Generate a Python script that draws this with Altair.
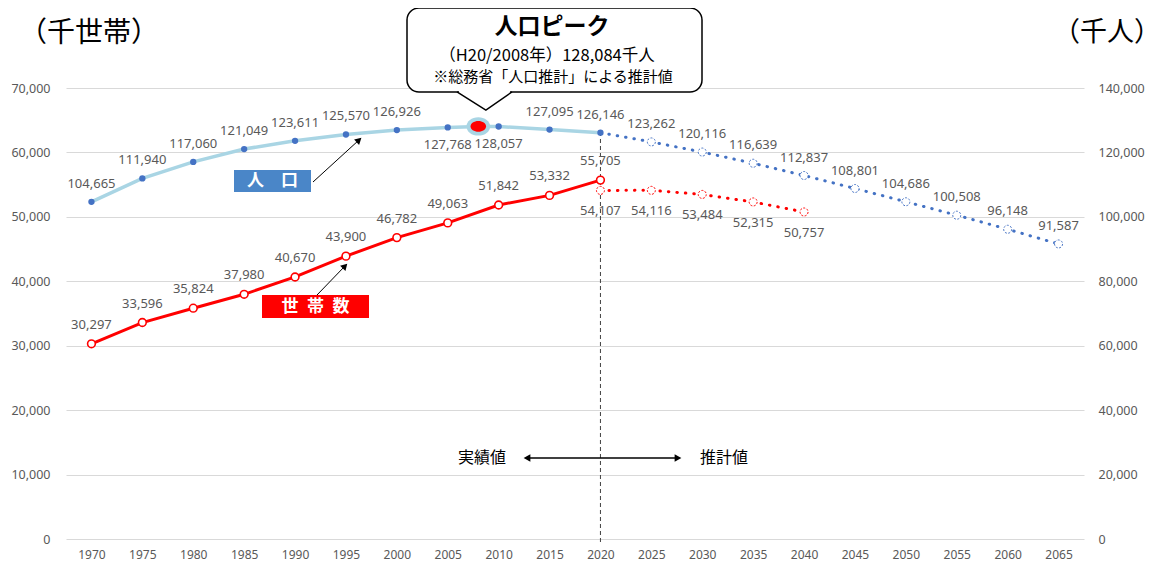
import altair as alt
import pandas as pd

# ---------------- data ----------------
years_actual = [1970, 1975, 1980, 1985, 1990, 1995, 2000, 2005, 2010, 2015, 2020]
pop_actual = [104665, 111940, 117060, 121049, 123611, 125570, 126926, 127768, 128057, 127095, 126146]
peak_year = [2008]
peak_pop = [128084]
years_proj_pop = [2020, 2025, 2030, 2035, 2040, 2045, 2050, 2055, 2060, 2065]
pop_proj = [126146, 123262, 120116, 116639, 112837, 108801, 104686, 100508, 96148, 91587]
hh_actual = [30297, 33596, 35824, 37980, 40670, 43900, 46782, 49063, 51842, 53332, 55705]
years_proj_hh = [2020, 2025, 2030, 2035, 2040]
hh_proj = [54107, 54116, 53484, 52315, 50757]
x_ticks = [1970, 1975, 1980, 1985, 1990, 1995, 2000, 2005, 2010, 2015,
           2020, 2025, 2030, 2035, 2040, 2045, 2050, 2055, 2060, 2065]
hh_ticks = [0, 10000, 20000, 30000, 40000, 50000, 60000, 70000]
pop_ticks = [0, 20000, 40000, 60000, 80000, 100000, 120000, 140000]
pop_below_years = [2005, 2010]

left_title = "（千世帯）"
right_title = "（千人）"
callout_title = "人口ピーク"
callout_line2 = "（H20/2008年）128,084千人"
callout_line3 = "※総務省「人口推計」による推計値"
pop_tag = "人\u3000口"
hh_tag = "世\u2002帯\u2002数"
actual_text = "実績値"
proj_text = "推計値"

JP = "Noto Sans CJK JP"
NUM = "Noto Sans"
GRAY = "#595959"
BLUE = "#4472C4"
LBLUE = "#A9D5E4"
RED = "#FF0000"

# ---------------- tables ----------------
pop_line_df = pd.DataFrame({"year": years_actual + peak_year, "v": pop_actual + peak_pop}).sort_values("year")
pop_act_df = pd.DataFrame({"year": years_actual, "v": pop_actual})
pop_above_df = pop_act_df[~pop_act_df.year.isin(pop_below_years)]
pop_below_df = pop_act_df[pop_act_df.year.isin(pop_below_years)]
pop_proj_df = pd.DataFrame({"year": years_proj_pop, "v": pop_proj})
pop_proj_pts = pop_proj_df[pop_proj_df.year > years_actual[-1]]
peak_df = pd.DataFrame({"year": peak_year, "v": peak_pop})
hh_act_df = pd.DataFrame({"year": years_actual, "v": hh_actual})
hh_proj_df = pd.DataFrame({"year": years_proj_hh, "v": hh_proj})
one = pd.DataFrame({"k": [0]})
vline_df = pd.DataFrame({"year": [years_actual[-1]]})

# ---------------- encodings ----------------
X = alt.X("year:Q",
          scale=alt.Scale(domain=[1967.5, 2067.5], nice=False, zero=False),
          axis=alt.Axis(values=x_ticks, format="d", grid=False, ticks=False, domain=False,
                        labelPadding=10, labelFontSize=12, labelColor=GRAY, labelFont=NUM,
                        title=None))
Y_hh = alt.Y("v:Q", scale=alt.Scale(domain=[0, 70000], nice=False, zero=True),
             axis=alt.Axis(orient="left", values=hh_ticks, format=",.0f", grid=True,
                           gridColor="#D9D9D9", gridWidth=1, ticks=False, domain=False,
                           labelPadding=16, labelFontSize=12.5, labelColor=GRAY,
                           labelFont=NUM, title=None))
Y_pop = alt.Y("v:Q", scale=alt.Scale(domain=[0, 140000], nice=False, zero=True),
              axis=alt.Axis(orient="right", values=pop_ticks, format=",.0f", grid=False,
                            ticks=False, domain=False, labelPadding=14, labelFontSize=12.5,
                            labelColor=GRAY, labelFont=NUM, title=None))
TXT = alt.Text("v:Q", format=",.0f")


def labels(df, Y, dy, dx=0):
    return alt.Chart(df).mark_text(font=NUM, fontSize=13, color=GRAY, dy=dy, dx=dx).encode(
        x=X, y=Y, text=TXT)


# ---------------- households ----------------
hh_group = alt.layer(
    alt.Chart(hh_proj_df).mark_line(color=RED, strokeWidth=3, strokeDash=[0.5, 8],
                                    strokeCap="round").encode(x=X, y=Y_hh),
    alt.Chart(hh_act_df).mark_line(color=RED, strokeWidth=3).encode(x=X, y=Y_hh),
    alt.Chart(hh_act_df).mark_point(shape="circle", size=60, filled=True, fill="white",
                                    stroke=RED, strokeWidth=1.6, opacity=1).encode(x=X, y=Y_hh),
    alt.Chart(hh_proj_df).mark_point(shape="circle", size=64, filled=True, fill="white",
                                     stroke=RED, strokeWidth=1, strokeDash=[2, 1.5],
                                     opacity=1).encode(x=X, y=Y_hh),
    labels(hh_act_df, Y_hh, -19),
    labels(hh_proj_df, Y_hh, 21),
)

# ---------------- population ----------------
ellipse_outer = "M -1 0 A 1 0.78 0 1 1 1 0 A 1 0.78 0 1 1 -1 0 Z"
ellipse_inner = "M -1 0 A 1 0.68 0 1 1 1 0 A 1 0.68 0 1 1 -1 0 Z"
pop_group = alt.layer(
    alt.Chart(pop_proj_df).mark_line(color=BLUE, strokeWidth=3, strokeDash=[0.5, 8],
                                     strokeCap="round").encode(x=X, y=Y_pop),
    alt.Chart(pop_line_df).mark_line(color=LBLUE, strokeWidth=3.5).encode(x=X, y=Y_pop),
    alt.Chart(pop_act_df).mark_point(shape="circle", size=40, filled=True, fill=BLUE,
                                     opacity=1).encode(x=X, y=Y_pop),
    alt.Chart(pop_proj_pts).mark_point(shape="circle", size=64, filled=True, fill="white",
                                       stroke=BLUE, strokeWidth=1, strokeDash=[2, 1.5],
                                       opacity=1).encode(x=X, y=Y_pop),
    alt.Chart(peak_df).mark_point(shape=ellipse_outer, size=560, filled=True, fill=LBLUE,
                                  opacity=1).encode(x=X, y=Y_pop),
    alt.Chart(peak_df).mark_point(shape=ellipse_inner, size=240, filled=True, fill=RED,
                                  opacity=1).encode(x=X, y=Y_pop),
    labels(pop_above_df, Y_pop, -18),
    labels(pop_below_df, Y_pop, 18),
    labels(pop_proj_pts, Y_pop, -18),
)

# ---------------- annotations ----------------
vline = alt.Chart(vline_df).mark_rule(color="#404040", strokeWidth=1, strokeDash=[4, 3]).encode(
    x=X, y=alt.value(44), y2=alt.value(454))


def box(x, x2, y, y2, color):
    return alt.Chart(one).mark_rect(color=color).encode(
        x=alt.value(x), x2=alt.value(x2), y=alt.value(y), y2=alt.value(y2))


def txt(s, x, y, size, color="black", bold=False, font=JP, align="center"):
    return alt.Chart(one).mark_text(text=s, font=font, fontSize=size, color=color,
                                    fontWeight="bold" if bold else "normal",
                                    align=align, baseline="middle").encode(
        x=alt.value(x), y=alt.value(y))


def seg(x, y, x2, y2, w=1):
    return alt.Chart(one).mark_rule(color="black", strokeWidth=w).encode(
        x=alt.value(x), y=alt.value(y), x2=alt.value(x2), y2=alt.value(y2))


def head(x, y, angle, shape="triangle-up", size=60):
    return alt.Chart(one).mark_point(shape=shape, size=size, filled=True, fill="black",
                                     opacity=1, angle=angle).encode(
        x=alt.value(x), y=alt.value(y))


callout_rect = alt.Chart(one).mark_rect(fill="white", stroke="black", strokeWidth=1.5,
                                        cornerRadius=12).encode(
    x=alt.value(341), x2=alt.value(636), y=alt.value(-80), y2=alt.value(4))
callout_cover = alt.Chart(one).mark_rule(color="white", strokeWidth=3).encode(
    x=alt.value(393), x2=alt.value(444), y=alt.value(4))
callout_ptr = alt.Chart(one).mark_point(
    shape="M -1 -0.33 L 0.05 0.33 L 1 -0.33", size=3025, filled=False,
    stroke="black", strokeWidth=1.5, opacity=1).encode(x=alt.value(418.5), y=alt.value(13))

annotations = [
    callout_rect, callout_cover, callout_ptr,
    txt(callout_title, 486, -61, 23, bold=True),
    txt(callout_line2, 481, -32, 16.5),
    txt(callout_line3, 487, -11, 15),
    txt(left_title, 23, -54, 28),
    txt(right_title, 1095, -55, 27, align="right"),
    box(168, 245, 82, 104, "#4A86C8"),
    txt(pop_tag, 206.5, 93, 17, color="white", bold=True),
    seg(247, 94, 293, 52),
    head(293, 52, 48, size=55),
    box(196, 303, 207, 230, RED),
    txt(hh_tag, 249.5, 218.5, 17, color="white", bold=True),
    seg(251, 207, 279, 178),
    head(279, 178, 44, size=55),
    seg(461, 370, 612, 370, 1.5),
    head(461, 370, 0, shape="triangle-left", size=60),
    head(612, 370, 0, shape="triangle-right", size=60),
    txt(actual_text, 416, 370, 16),
    txt(proj_text, 658, 370, 16),
]

chart = alt.layer(vline, hh_group, pop_group, *annotations).resolve_scale(
    y="independent"
).properties(
    width=1018, height=451,
    autosize=alt.AutoSizeParams(type="none"),
    padding={"left": 58, "top": 80, "right": 78, "bottom": 25},
).configure_view(stroke=None)

chart.save("out.html", embed_options={"renderer": "svg", "actions": False})
